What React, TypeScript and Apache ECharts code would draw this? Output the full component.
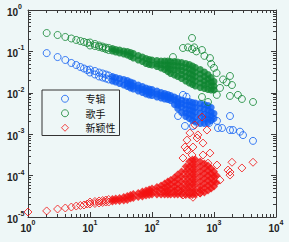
import React, { useEffect, useRef } from 'react';
import * as echarts from 'echarts';

const seriesNames = ['专辑', '歌手', '新颖性'];

// x tick exponents (10^0 .. 10^4) and y tick exponents (10^-5 .. 10^0)
const xDecades = [0, 1, 2, 3, 4];
const yDecades = [-5, -4, -3, -2, -1, 0];
const minorMultipliers = [2, 3, 4, 5, 6, 7, 8, 9];

// ---------- 专辑 (album) ----------
const albumSparse: number[][] = [
  [2, 0.091], [3, 0.073], [4, 0.062],
  [5, 0.0525], [6, 0.0469], [7, 0.042], [8, 0.0386], [9, 0.0355],
  [10, 0.0365], [10, 0.0309], [12, 0.0336], [12, 0.0277], [14, 0.0309], [14, 0.0248],
  [16, 0.0293], [16, 0.0234], [18, 0.0277], [18, 0.0222], [20, 0.0262], [20, 0.021],
  [263, 0.00275], [316, 0.0089], [360, 0.008], [340, 0.00158], [458, 0.00158],
  [830, 0.00186], [1117, 0.0021], [1160, 0.00141], [1346, 0.00141], [1811, 0.00275],
  [1811, 0.00126], [2025, 0.00126], [2627, 0.00115], [2937, 0.00095], [4256, 0.00069],
];
const denseX = [23, 26, 30, 35, 40, 45, 50, 60, 70, 80, 90, 100, 120, 140, 160, 180, 200, 230, 260, 300, 350, 400, 450, 500, 600, 700, 800, 900, 1000];
const albumDenseY: number[][] = [
  [0.0248, 0.0193], [0.0234, 0.0182], [0.0222, 0.0168], [0.021, 0.0154],
  [0.0198, 0.0168, 0.0142], [0.0182, 0.0154, 0.0131], [0.0172, 0.0146, 0.0124],
  [0.0154, 0.0131, 0.0111], [0.0142, 0.012, 0.0102], [0.0131, 0.0111, 0.00935],
  [0.0124, 0.0105, 0.00885], [0.012, 0.0102, 0.00861], [0.0111, 0.00935, 0.00792],
  [0.0102, 0.00861, 0.00749], [0.00962, 0.00837, 0.00708], [0.0091, 0.00792, 0.00689],
  [0.00861, 0.00749, 0.00652], [0.00792, 0.0067, 0.00522],
  [0.00729, 0.006, 0.00507, 0.00418], [0.0067, 0.00551, 0.00454, 0.00334],
  [0.00634, 0.00507, 0.00406, 0.00325, 0.00268], [0.00616, 0.00493, 0.00384, 0.00308, 0.00239],
  [0.00583, 0.00454, 0.00363, 0.00283, 0.00214], [0.00567, 0.00441, 0.00344, 0.0026, 0.00197],
  [0.00551, 0.0043, 0.00325, 0.00246, 0.00181], [0.00522, 0.00406, 0.00308, 0.00233, 0.00181],
  [0.00493, 0.00384, 0.00291, 0.00233, 0.00192], [0.00441, 0.00344, 0.00275, 0.00214],
  [0.00316, 0.00239],
];

// ---------- 歌手 (artist) ----------
const artistSparse: number[][] = [
  [2, 0.278], [3, 0.249], [4, 0.223],
  [5, 0.205], [6, 0.189], [7, 0.178], [8, 0.169], [9, 0.16],
  [10, 0.164], [10, 0.139], [12, 0.151], [12, 0.135], [14, 0.139], [14, 0.128],
  [16, 0.131], [16, 0.121], [18, 0.124], [18, 0.114], [20, 0.121], [20, 0.108],
  [442, 0.211], [316, 0.121], [442, 0.114], [640, 0.108], [861, 0.069], [218, 0.073],
  [380, 0.125], [480, 0.125], [520, 0.1], [700, 0.078], [900, 0.05], [1000, 0.04],
  [1100, 0.03], [1400, 0.021], [1600, 0.018], [1810, 0.0255], [1950, 0.0154],
  [1250, 0.0131], [1810, 0.0084], [2820, 0.0071], [4260, 0.006], [1110, 0.0089],
  [800, 0.006], [640, 0.0079], [2430, 0.0089],
];
const artistDenseY: number[][] = [
  [0.118, 0.102], [0.111, 0.0967], [0.108, 0.0915], [0.102, 0.0866], [0.0995, 0.0818],
  [0.0941, 0.0753], [0.089, 0.0693], [0.0796, 0.062], [0.0732, 0.057], [0.0674, 0.051],
  [0.0637, 0.0483], [0.062, 0.0469], [0.0603, 0.0496, 0.0432], [0.0586, 0.0483, 0.0397],
  [0.0586, 0.0469, 0.0365], [0.0586, 0.0469, 0.0397, 0.0327], [0.057, 0.0456, 0.0365, 0.0293],
  [0.057, 0.0456, 0.0355, 0.0269], [0.0555, 0.0444, 0.0346, 0.0248],
  [0.0539, 0.0432, 0.0346, 0.0277, 0.0222], [0.051, 0.0408, 0.0318, 0.0248, 0.0193],
  [0.0483, 0.0376, 0.0293, 0.0228, 0.0172], [0.0444, 0.0346, 0.0269, 0.021, 0.0159],
  [0.0408, 0.0318, 0.0248, 0.0193, 0.0146], [0.0365, 0.0285, 0.0222, 0.0172, 0.0134],
  [0.0318, 0.0248, 0.0193, 0.0154, 0.0127], [0.0277, 0.0215, 0.0168, 0.012],
  [0.0234, 0.0182, 0.0146, 0.0117], [0.0187, 0.0146, 0.0117],
];

// ---------- 新颖性 (novelty) ----------
const noveltySparse: number[][] = [
  [1, 1.32e-5], [2, 1.4e-5], [3, 1.56e-5], [4, 1.65e-5],
  [5, 1.74e-5], [6, 1.84e-5], [7, 1.9e-5], [8, 1.95e-5], [9, 2.06e-5],
  [10, 2.3e-5], [10, 2.06e-5], [12, 2.37e-5], [12, 2.12e-5], [14, 2.44e-5], [14, 2.18e-5],
  [16, 2.5e-5], [16, 2.24e-5], [18, 2.57e-5], [18, 2.3e-5], [20, 2.65e-5], [20, 2.3e-5],
  [640, 0.0026], [490, 0.00167], [408, 0.00107], [367, 0.00072], [550, 0.00096],
  [771, 0.00126], [532, 0.00081], [665, 0.00061], [458, 0.00049], [340, 0.00049],
  [367, 0.000415], [442, 0.000315], [665, 0.000315], [316, 0.000266], [861, 0.00035],
  [800, 0.0002], [1117, 0.00018], [1250, 7.8e-5], [1810, 0.000103], [1811, 0.000122],
  [1680, 0.000136], [1950, 0.00021], [2820, 0.000153], [4260, 0.00021],
  [263, 4.5e-5], [316, 3.4e-5], [458, 3.0e-5], [594, 3.8e-5],
];
const noveltyDenseX = [...denseX, 1100];
const noveltyDenseY: number[][] = [
  [2.72e-5, 2.37e-5], [2.8e-5, 2.44e-5], [2.88e-5, 2.44e-5], [3.04e-5, 2.5e-5],
  [3.22e-5, 2.57e-5], [3.4e-5, 2.8e-5], [3.59e-5, 2.88e-5], [3.8e-5, 3.04e-5],
  [4.13e-5, 3.59e-5, 3.13e-5], [4.37e-5, 3.8e-5, 3.31e-5], [4.62e-5, 4.02e-5, 3.4e-5],
  [4.88e-5, 4.13e-5, 3.5e-5], [5.3e-5, 4.37e-5, 3.5e-5], [5.77e-5, 4.62e-5, 3.5e-5],
  [6.44e-5, 5.16e-5, 4.25e-5, 3.5e-5], [7.2e-5, 5.61e-5, 4.37e-5, 3.5e-5],
  [7.83e-5, 6.1e-5, 4.62e-5, 3.5e-5], [9.0e-5, 7.0e-5, 5.45e-5, 4.37e-5, 3.5e-5],
  [1.06e-4, 8.28e-5, 6.27e-5, 4.75e-5, 3.5e-5],
  [1.26e-4, 9.51e-5, 7.2e-5, 5.45e-5, 4.37e-5, 3.5e-5],
  [1.66e-4, 1.26e-4, 9.51e-5, 7.2e-5, 5.61e-5, 4.37e-5, 3.4e-5],
  [2.19e-4, 1.66e-4, 1.26e-4, 9.51e-5, 7.2e-5, 5.61e-5, 4.37e-5, 3.4e-5],
  [2.45e-4, 1.85e-4, 1.4e-4, 1.06e-4, 8.05e-5, 6.1e-5, 4.49e-5, 3.4e-5],
  [2.45e-4, 1.85e-4, 1.4e-4, 1.06e-4, 8.05e-5, 6.1e-5, 4.49e-5, 3.5e-5],
  [2.19e-4, 1.66e-4, 1.26e-4, 9.51e-5, 7.2e-5, 5.45e-5, 4.49e-5, 3.7e-5],
  [1.96e-4, 1.48e-4, 1.12e-4, 8.51e-5, 6.44e-5, 5.02e-5, 3.91e-5],
  [1.75e-4, 1.33e-4, 1.01e-4, 7.61e-5, 5.77e-5, 4.37e-5],
  [1.48e-4, 1.12e-4, 8.51e-5, 6.44e-5, 4.88e-5],
  [1.26e-4, 9.51e-5, 7.2e-5, 5.45e-5],
  [1.01e-4, 6.81e-5],
];

const BLUE = '#0c5cf2';
const GREEN = '#0e8430';
const RED = '#f21010';
const AXIS = '#3a3a3a';
const TEXT = '#222222';

function pairs(xs: number[], ys: number[][]): number[][] {
  const out: number[][] = [];
  xs.forEach((x, i) => ys[i].forEach((y) => out.push([x, y])));
  return out;
}

function minorLogTicks(decades: number[]): number[] {
  const out: number[] = [];
  for (let i = 0; i < decades.length - 1; i++) {
    minorMultipliers.forEach((m) => out.push(decades[i] + Math.log10(m)));
  }
  return out;
}

const richLabel = {
  b: { fontSize: 10, fontWeight: 'bold', color: TEXT, fontFamily: 'Liberation Sans', padding: [4, 0, 0, 0], verticalAlign: 'bottom' },
  e: { fontSize: 7, fontWeight: 'bold', color: TEXT, fontFamily: 'Liberation Sans', verticalAlign: 'top' },
};
const powLabel = (v: number) => `{b|10}{e|${Math.round(Math.log10(v))}}`;

function decoAxis(pos: string, min: number, max: number, ticks: number[], len: number, line: boolean) {
  return {
    type: 'value', position: pos, min, max,
    axisLine: { show: line, onZero: false, lineStyle: { color: AXIS, width: 1 } },
    axisTick: { show: true, inside: true, length: len, customValues: ticks, lineStyle: { color: AXIS, width: 1 } },
    axisLabel: { show: false },
    splitLine: { show: false },
  };
}

export default function App() {
  const ref = useRef<HTMLDivElement>(null);
  useEffect(() => {
    if (!ref.current) return;
    const chart = echarts.init(ref.current, undefined, { renderer: 'svg' });
    const xMinor = minorLogTicks(xDecades);
    const yMinor = minorLogTicks(yDecades);
    const hollow = (name: string, data: number[][], color: string, symbol: string, size: number) => ({
      type: 'scatter', name, data, symbol, symbolSize: size, silent: true,
      itemStyle: { color: 'rgba(0,0,0,0)', borderColor: color, borderWidth: 1 },
      emphasis: { disabled: true },
    });
    const filled = (name: string, data: number[][], color: string, symbol: string, size: number) => ({
      type: 'scatter', name, data, symbol, symbolSize: size, silent: true,
      itemStyle: { color, borderWidth: 0 },
      emphasis: { disabled: true },
    });
    chart.setOption({
      animation: false,
      backgroundColor: 'transparent',
      grid: { left: 28, top: 10, width: 248, height: 207, containLabel: false },
      xAxis: [
        {
          type: 'log', logBase: 10, min: 1, max: 10000, position: 'bottom',
          axisLine: { show: true, onZero: false, lineStyle: { color: AXIS, width: 1 } },
          axisTick: { show: true, inside: true, length: 5, lineStyle: { color: AXIS } },
          axisLabel: { formatter: powLabel, rich: richLabel, margin: 2 },
          splitLine: { show: false },
        },
        decoAxis('bottom', 0, 4, xMinor, 3, false),
        decoAxis('top', 0, 4, xDecades, 5, true),
        decoAxis('top', 0, 4, xMinor, 3, false),
      ],
      yAxis: [
        {
          type: 'log', logBase: 10, min: 1e-5, max: 1, position: 'left',
          axisLine: { show: true, onZero: false, lineStyle: { color: AXIS, width: 1 } },
          axisTick: { show: true, inside: true, length: 5, lineStyle: { color: AXIS } },
          axisLabel: { formatter: powLabel, rich: richLabel, margin: 21, align: 'left' },
          splitLine: { show: false },
        },
        decoAxis('left', -5, 0, yMinor, 3, false),
        decoAxis('right', -5, 0, yDecades, 5, true),
        decoAxis('right', -5, 0, yMinor, 3, false),
      ],
      legend: {
        data: seriesNames,
        orient: 'vertical', left: 42, top: 90,
        itemWidth: 7, itemHeight: 7, itemGap: 3,
        padding: [3, 4, 2, 19],
        borderColor: '#333', borderWidth: 1, backgroundColor: 'transparent',
        selectedMode: false,
        itemStyle: { borderWidth: 1 },
        textStyle: { fontSize: 10, fontFamily: 'Noto Sans CJK SC', color: '#111', padding: [0, 0, 0, 12], lineHeight: 11.5 },
      },
      series: [
        filled('专辑 band', pairs(denseX, albumDenseY), BLUE, 'circle', 7),
        hollow(seriesNames[0], albumSparse, BLUE, 'circle', 7),
        filled('歌手 band', pairs(denseX, artistDenseY), GREEN, 'circle', 7),
        hollow(seriesNames[1], artistSparse, GREEN, 'circle', 7),
        filled('新颖性 band', pairs(noveltyDenseX, noveltyDenseY), RED, 'diamond', 8),
        hollow(seriesNames[2], noveltySparse, RED, 'diamond', 8),
      ],
    });
    return () => chart.dispose();
  }, []);
  return (
    <div style={{ position: 'fixed', left: 0, top: 0, width: 289, height: 242, background: '#eef7f7' }}>
      <div ref={ref} style={{ width: 289, height: 242 }} />
    </div>
  );
}
